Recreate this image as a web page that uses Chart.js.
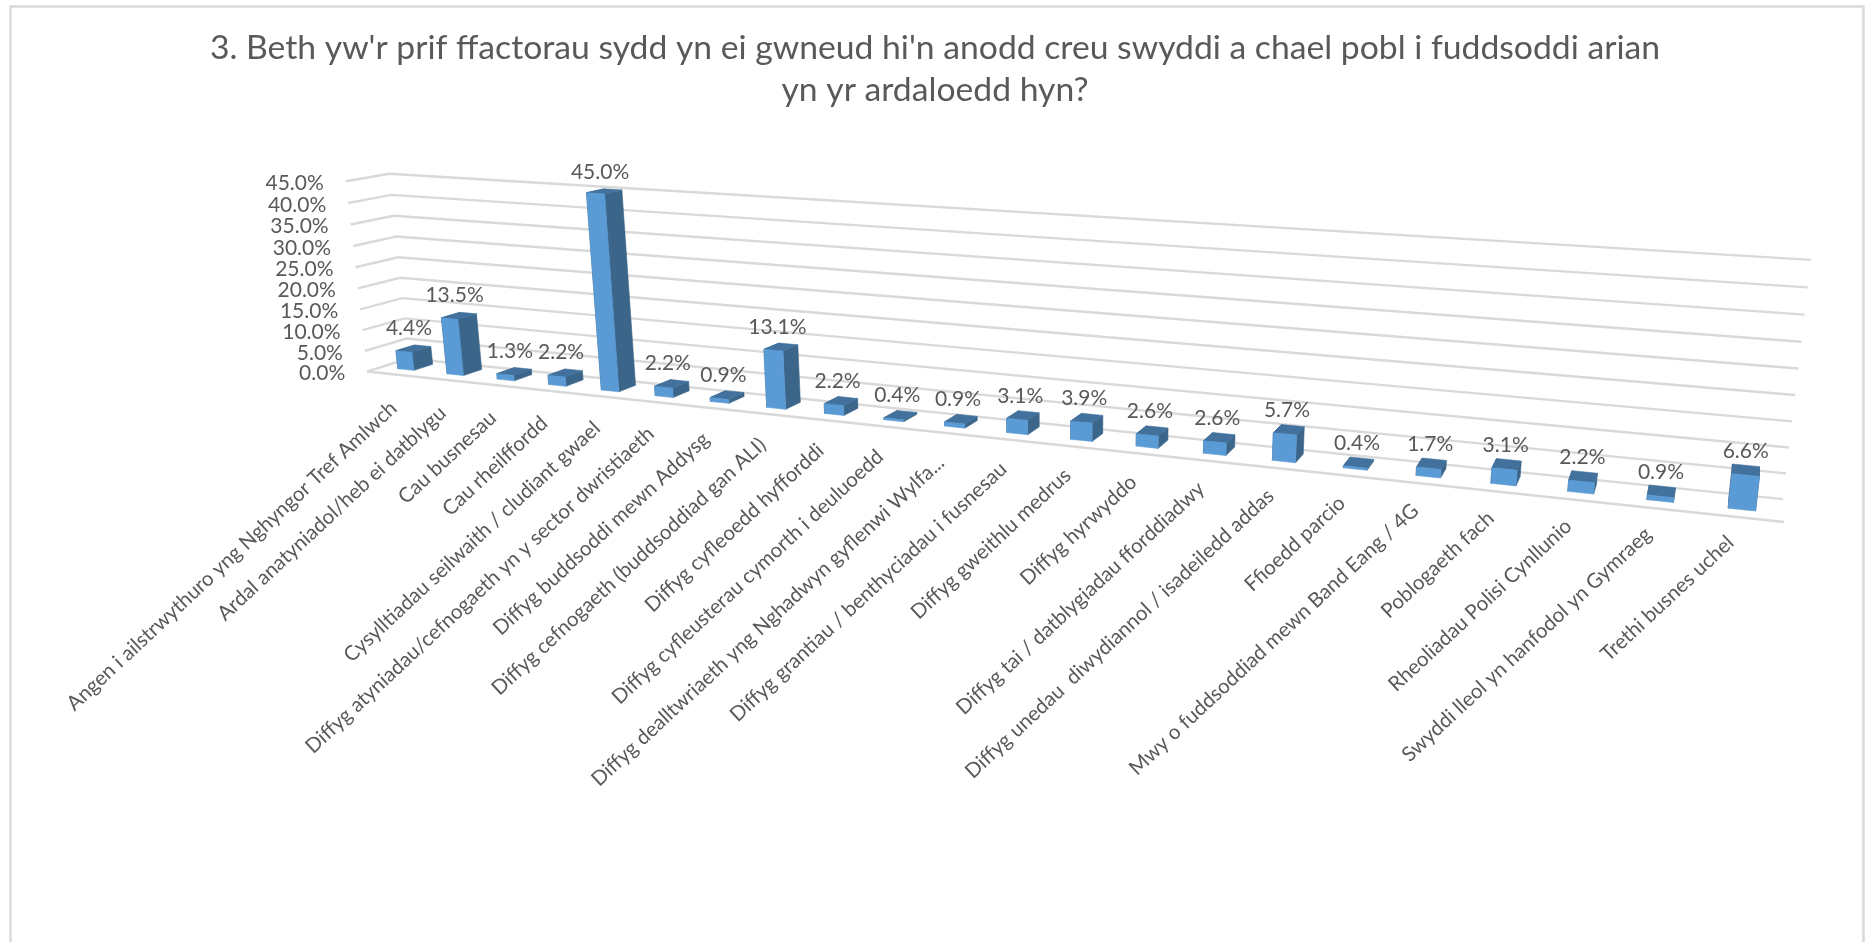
<!DOCTYPE html>
<html><head><meta charset="utf-8">
<style>html,body{margin:0;padding:0;background:#fff;overflow:hidden}canvas{display:block}</style>
<script src="https://cdn.jsdelivr.net/npm/chart.js@4"></script>
</head><body><canvas id="c" width="1870" height="942"></canvas>
<script>
const titleLines = ["3. Beth yw'r prif ffactorau sydd yn ei gwneud hi'n anodd creu swyddi a chael pobl i fuddsoddi arian", "yn yr ardaloedd hyn?"];
const categories = [
 "Angen i ailstrwythuro yng Nghyngor Tref Amlwch",
 "Ardal anatyniadol/heb ei datblygu",
 "Cau busnesau",
 "Cau rheilffordd",
 "Cysylltiadau seilwaith / cludiant gwael",
 "Diffyg atyniadau/cefnogaeth yn y sector dwristiaeth",
 "Diffyg buddsoddi mewn Addysg",
 "Diffyg cefnogaeth (buddsoddiad gan ALI)",
 "Diffyg cyfleoedd hyfforddi",
 "Diffyg cyfleusterau cymorth i deuluoedd",
 "Diffyg dealltwriaeth yng Nghadwyn gyflenwi Wylfa...",
 "Diffyg grantiau / benthyciadau i fusnesau",
 "Diffyg gweithlu medrus",
 "Diffyg hyrwyddo",
 "Diffyg tai / datblygiadau fforddiadwy",
 "Diffyg unedau  diwydiannol / isadeiledd addas",
 "Ffioedd parcio",
 "Mwy o fuddsoddiad mewn Band Eang / 4G",
 "Poblogaeth fach",
 "Rheoliadau Polisi Cynllunio",
 "Swyddi lleol yn hanfodol yn Gymraeg",
 "Trethi busnes uchel"
];
const values = [4.4,13.5,1.3,2.2,45.0,2.2,0.9,13.1,2.2,0.4,0.9,3.1,3.9,2.6,2.6,5.7,0.4,1.7,3.1,2.2,0.9,6.6];
const yMax = 45, yStep = 5;

const FONT = 'Lato, Carlito, Calibri, sans-serif';
const TXT = '#595959', GRID = '#d9d9d9';
const FRONT = '#5b9bd5', SIDE = '#3b6589', TOP = '#41719c';
const L = 368, R = 1784, T = 182, B = 370;
const D0 = 0.34, D1 = 0.80;

// (u, v, d) cube corners -> picture: the oblique view of the chart's box
const box = [
 [0,0,0,368,370],[0,1,0,345,182],[0,0,1,408,360],[0,1,1,390,173],
 [1,0,0,1784,523],[1,0,1,1783,498],[1,1,1,1811,260]
];
function solve(A, b){
  const n = b.length, M = A.map((r,i)=>r.concat(b[i]));
  for(let i=0;i<n;i++){
    let p=i; for(let k=i+1;k<n;k++) if(Math.abs(M[k][i])>Math.abs(M[p][i])) p=k;
    [M[i],M[p]]=[M[p],M[i]];
    for(let k=i+1;k<n;k++){ const f=M[k][i]/M[i][i]; for(let j=i;j<=n;j++) M[k][j]-=f*M[i][j]; }
  }
  const x=Array(n).fill(0);
  for(let i=n-1;i>=0;i--){ let s=M[i][n]; for(let j=i+1;j<n;j++) s-=M[i][j]*x[j]; x[i]=s/M[i][i]; }
  return x;
}
const cam = (function(){
  const rows=[], rhs=[];
  box.forEach(([u,v,d,X,Y])=>{
    const x=X/1000,y=Y/1000;
    rows.push([1,u,v,d,0,0,0,0,-x*u,-x*v,-x*d]); rhs.push(x);
    rows.push([0,0,0,0,1,u,v,d,-y*u,-y*v,-y*d]); rhs.push(y);
  });
  const n=11, A=[...Array(n)].map(()=>Array(n).fill(0)), b=Array(n).fill(0);
  rows.forEach((r,k)=>{ for(let i=0;i<n;i++){ b[i]+=r[i]*rhs[k]; for(let j=0;j<n;j++) A[i][j]+=r[i]*r[j]; } });
  return solve(A,b);
})();
function proj(u,v,d){
  const w=1+cam[8]*u+cam[9]*v+cam[10]*d;
  return [1000*(cam[0]+cam[1]*u+cam[2]*v+cam[3]*d)/w, 1000*(cam[4]+cam[5]*u+cam[6]*v+cam[7]*d)/w];
}
const uOf = (chart,px)=>(px-chart.chartArea.left)/(chart.chartArea.right-chart.chartArea.left);
const vOf = (chart,py)=>(chart.chartArea.bottom-py)/(chart.chartArea.bottom-chart.chartArea.top);

function poly(ctx,pts,col){
  ctx.beginPath(); pts.forEach((p,i)=>i?ctx.lineTo(p[0],p[1]):ctx.moveTo(p[0],p[1])); ctx.closePath();
  ctx.fillStyle=col; ctx.strokeStyle=col; ctx.lineWidth=0.6; ctx.fill(); ctx.stroke();
}
const view3d = {
  id:'view3d',
  beforeDraw(chart){
    const ctx=chart.ctx; ctx.save();
    ctx.strokeStyle=GRID; ctx.lineWidth=2.4;
    ctx.strokeRect(10.5,6.5,1853,960);
    ctx.restore();
    const xs=chart.scales.x, ys=chart.scales.y;
    xs.getLabelItems().forEach((it,i)=>{
      const p=proj(uOf(chart,xs.getPixelForTick(i)),0,0), t=i/(categories.length-1);
      it.textOffset=0;
      it.options.textAlign='right'; it.options.textBaseline='middle';
      it.options.translation=[p[0]+2-13*t, p[1]+31-9*t];
    });
    ys.getLabelItems().forEach((it,i)=>{
      const p=proj(0,vOf(chart,ys.getPixelForTick(i)),0);
      it.textOffset=0;
      it.options.textAlign='right'; it.options.textBaseline='middle';
      it.options.translation=[p[0]-22, p[1]+2];
    });
  },
  beforeDatasetsDraw(chart){
    const ctx=chart.ctx, ys=chart.scales.y;
    ctx.save();
    ctx.strokeStyle=GRID; ctx.lineWidth=2.4; ctx.lineJoin='round';
    ys.ticks.forEach((t,i)=>{
      const v=vOf(chart,ys.getPixelForTick(i));
      const a=proj(0,v,0),b=proj(0,v,1),c=proj(1,v,1);
      ctx.beginPath(); ctx.moveTo(a[0],a[1]); ctx.lineTo(b[0],b[1]); ctx.lineTo(c[0],c[1]); ctx.stroke();
    });
    const f0=proj(0,0,0), f1=proj(1,0,0);
    ctx.beginPath(); ctx.moveTo(f0[0],f0[1]); ctx.lineTo(f1[0],f1[1]); ctx.stroke();

    const meta=chart.getDatasetMeta(0);
    meta.data.forEach((bar)=>{
      const u0=uOf(chart,bar.x-bar.width/2), u1=uOf(chart,bar.x+bar.width/2);
      const v1=vOf(chart,bar.y), v0=vOf(chart,bar.base);
      const P=(u,v,d)=>proj(u,v,d);
      poly(ctx,[P(u0,v0,D0),P(u0,v1,D0),P(u0,v1,D1),P(u0,v0,D1)],SIDE);
      poly(ctx,[P(u1,v0,D0),P(u1,v1,D0),P(u1,v1,D1),P(u1,v0,D1)],SIDE);
      poly(ctx,[P(u0,v1,D0),P(u1,v1,D0),P(u1,v1,D1),P(u0,v1,D1)],TOP);
      poly(ctx,[P(u0,v0,D0),P(u1,v0,D0),P(u1,v1,D0),P(u0,v1,D0)],FRONT);
    });
    // value labels
    ctx.fillStyle=TXT; ctx.font='21px '+FONT; ctx.textAlign='center'; ctx.textBaseline='middle';
    meta.data.forEach((bar,i)=>{
      const u=uOf(chart,bar.x), v=vOf(chart,bar.y);
      const px=proj(u,v,D0+0.12)[0], py=proj(u,v,D1)[1];
      ctx.fillText(values[i].toFixed(1)+'%',px,py-18+4*u);
    });
    ctx.restore();
    return false;
  }
};

new Chart(document.getElementById('c'),{
  type:'bar',
  data:{labels:categories,datasets:[{data:values,backgroundColor:FRONT,barPercentage:0.33,categoryPercentage:1}]},
  plugins:[view3d],
  options:{
    responsive:false,animation:false,devicePixelRatio:1,
    layout:{padding:0},
    plugins:{
      legend:{display:false},tooltip:{enabled:false},
      title:{display:true,text:titleLines,color:TXT,font:{family:FONT,size:33.7,weight:'normal',lineHeight:42/33.7},
             padding:{top:27,bottom:71}}
    },
    scales:{
      x:{grid:{display:false},border:{display:false},
         ticks:{autoSkip:false,minRotation:43,maxRotation:43,color:TXT,font:{family:FONT,size:20.5}},
         afterFit(s){s.height=942-B;s.paddingLeft=s.paddingRight=s.paddingTop=s.paddingBottom=0;}},
      y:{min:0,max:yMax,grid:{display:false},border:{display:false},
         ticks:{autoSkip:false,stepSize:yStep,color:TXT,font:{family:FONT,size:21},callback:v=>v.toFixed(1)+'%'},
         afterFit(s){s.width=L;s.paddingLeft=s.paddingRight=s.paddingTop=s.paddingBottom=0;}},
      rightGutter:{type:'linear',position:'right',grid:{display:false},border:{display:false},ticks:{display:false},
         afterFit(s){s.width=1870-R;s.paddingLeft=s.paddingRight=s.paddingTop=s.paddingBottom=0;}}
    }
  }
});
</script></body></html>
